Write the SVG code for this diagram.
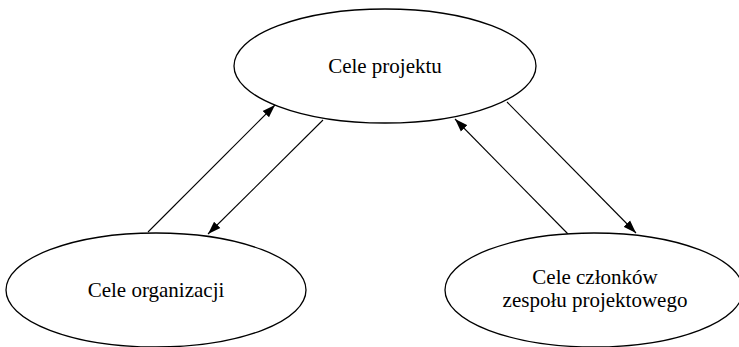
<svg xmlns="http://www.w3.org/2000/svg" width="739" height="347" viewBox="0 0 739 347">
<style>
.node ellipse{fill:#fff;stroke:#000;stroke-width:1.3}
.node text{font-family:"Liberation Serif","Times New Roman",serif;font-size:21px;fill:#000;text-anchor:middle}
.edge{stroke:#000;stroke-width:1.1;fill:none;marker-end:url(#ah)}
</style>
<defs>
<marker id="ah" markerUnits="userSpaceOnUse" markerWidth="14" markerHeight="10" refX="13" refY="4.5" orient="auto" viewBox="0 0 14 9">
<path d="M0,0 L13,4.5 L0,9 z" fill="#000"/>
</marker>
</defs>
<rect width="739" height="347" fill="#fff"/>
<g id="connectors">
<line class="edge" x1="148" y1="232" x2="275" y2="105"/>
<line class="edge" x1="323" y1="120" x2="208" y2="234"/>
<line class="edge" x1="568" y1="234" x2="455" y2="119"/>
<line class="edge" x1="507" y1="102" x2="636" y2="233"/>
</g>
<g id="node-projekt" class="node">
<ellipse cx="385" cy="66" rx="151" ry="57"/>
<text x="385" y="73">Cele projektu</text>
</g>
<g id="node-organizacja" class="node">
<ellipse cx="156" cy="290" rx="150" ry="57"/>
<text x="156" y="297">Cele organizacji</text>
</g>
<g id="node-zespol" class="node">
<ellipse cx="594" cy="290" rx="149" ry="57"/>
<text x="595" y="284">Cele członków</text>
<text x="595" y="307">zespołu projektowego</text>
</g>
</svg>
